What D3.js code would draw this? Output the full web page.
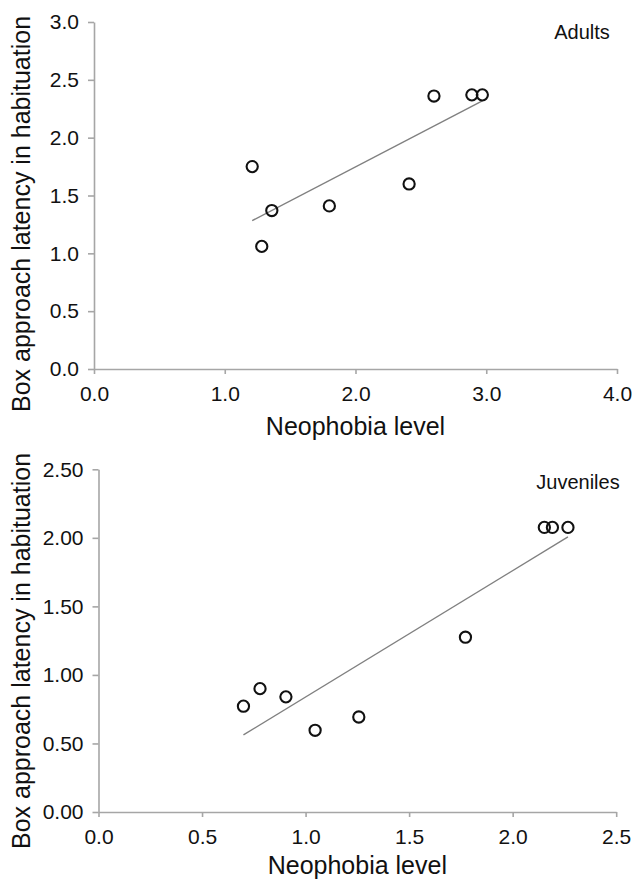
<!DOCTYPE html>
<html>
<head>
<meta charset="utf-8">
<script src="https://cdn.jsdelivr.net/npm/d3@7"></script>
<style>
  html, body { margin: 0; padding: 0; background: #fff; }
  svg { display: block; font-family: "Liberation Sans", Arial, sans-serif; }
</style>
</head>
<body>
<svg id="chart" width="633" height="881"></svg>
<script>
// ---- Data: Adults panel ----
const adultsNeophobia = [1.21, 1.36, 1.283, 1.80, 2.41, 2.60, 2.89, 2.97];
const adultsLatency   = [1.75, 1.37, 1.06, 1.41, 1.60, 2.36, 2.37, 2.37];
const adultsXTicks = [0, 1, 2, 3, 4];
const adultsYTicks = [0, 0.5, 1, 1.5, 2, 2.5, 3];

// ---- Data: Juveniles panel ----
const juvNeophobia = [0.70, 0.78, 0.905, 1.046, 1.257, 1.772, 2.153, 2.192, 2.267];
const juvLatency   = [0.772, 0.90, 0.84, 0.596, 0.693, 1.275, 2.076, 2.076, 2.076];
const juvXTicks = [0, 0.5, 1, 1.5, 2, 2.5];
const juvYTicks = [0, 0.5, 1, 1.5, 2, 2.5];

const xTitle = "Neophobia level";
const yTitle = "Box approach latency in habituation";

const svg = d3.select("#chart");
const axisColor = "#a6a6a6";
const lineColor = "#808080";

function linReg(xs, ys) {
  const n = xs.length;
  const mx = d3.mean(xs), my = d3.mean(ys);
  let sxy = 0, sxx = 0;
  for (let i = 0; i < n; i++) { sxy += (xs[i]-mx)*(ys[i]-my); sxx += (xs[i]-mx)**2; }
  const b = sxy / sxx;
  return x => my + b * (x - mx);
}

function panel(cfg) {
  const g = svg.append("g");
  const x = d3.scaleLinear().domain(cfg.xDomain).range([cfg.left, cfg.right]);
  const y = d3.scaleLinear().domain(cfg.yDomain).range([cfg.bottom, cfg.top]);

  const xAxis = g.append("g")
    .attr("transform", `translate(0,${cfg.bottom})`)
    .call(d3.axisBottom(x).tickValues(cfg.xTicks).tickFormat(d3.format(".1f"))
      .tickSizeInner(5).tickSizeOuter(0).tickPadding(12));
  const yAxis = g.append("g")
    .attr("transform", `translate(${cfg.left},0)`)
    .call(d3.axisLeft(y).tickValues(cfg.yTicks).tickFormat(d3.format(cfg.yFmt))
      .tickSizeInner(6).tickSizeOuter(0).tickPadding(9));
  [xAxis, yAxis].forEach(a => {
    a.selectAll("path, line").attr("stroke", axisColor).attr("stroke-width", 1.6);
    a.selectAll("text").attr("fill", "#111").style("font-size", "21px")
      .style("font-family", "'Liberation Sans', Arial, sans-serif");
  });

  // trend line
  const f = linReg(cfg.xs, cfg.ys);
  const x0 = d3.min(cfg.xs), x1 = d3.max(cfg.xs);
  g.append("line")
    .attr("x1", x(x0)).attr("y1", y(f(x0)))
    .attr("x2", x(x1)).attr("y2", y(f(x1)))
    .attr("stroke", lineColor).attr("stroke-width", 1.4);

  // points
  g.selectAll("circle.pt").data(cfg.xs.map((v, i) => [v, cfg.ys[i]]))
    .enter().append("circle").attr("class", "pt")
    .attr("cx", d => x(d[0])).attr("cy", d => y(d[1]))
    .attr("r", 5.6).attr("fill", "none")
    .attr("stroke", "#111").attr("stroke-width", 2.1);

  // label
  g.append("text").attr("x", cfg.labelX).attr("y", cfg.labelY)
    .attr("text-anchor", "middle").attr("fill", "#111")
    .style("font-size", "20px").text(cfg.label);

  // axis titles
  g.append("text")
    .attr("x", (cfg.left + cfg.right) / 2).attr("y", cfg.xTitleY)
    .attr("text-anchor", "middle").attr("fill", "#111")
    .style("font-size", "25px").text(xTitle);
  g.append("text")
    .attr("transform", `translate(${cfg.yTitleX},${cfg.yTitleCY}) rotate(-90)`)
    .attr("text-anchor", "middle").attr("fill", "#111")
    .style("font-size", "25px").text(yTitle);
}

panel({
  xs: adultsNeophobia, ys: adultsLatency,
  xDomain: [0, 4], yDomain: [0, 3],
  xTicks: adultsXTicks, yTicks: adultsYTicks, yFmt: ".1f",
  left: 94, right: 617, top: 22, bottom: 369,
  label: "Adults", labelX: 582, labelY: 39,
  xTitleY: 435, yTitleX: 30, yTitleCY: 214
});

panel({
  xs: juvNeophobia, ys: juvLatency,
  xDomain: [0, 2.5], yDomain: [0, 2.5],
  xTicks: juvXTicks, yTicks: juvYTicks, yFmt: ".2f",
  left: 98.5, right: 616.2, top: 469.3, bottom: 812,
  label: "Juveniles", labelX: 578, labelY: 489,
  xTitleY: 874, yTitleX: 30, yTitleCY: 651
});
</script>
</body>
</html>
